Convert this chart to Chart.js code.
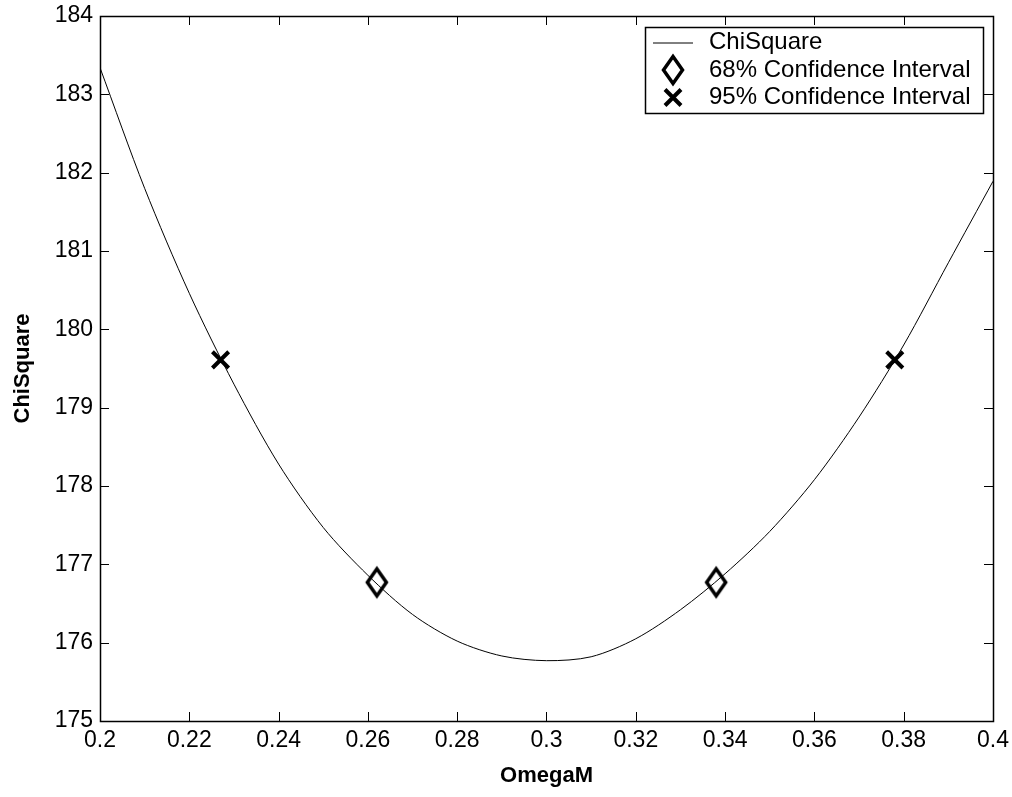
<!DOCTYPE html>
<html>
<head>
<meta charset="utf-8">
<script src="https://cdn.jsdelivr.net/npm/chart.js@4.4.1/dist/chart.umd.min.js"></script>
<style>
html, body { margin: 0; padding: 0; background: #fff; }
</style>
</head>
<body>
<canvas id="chiChart" width="1012" height="797"></canvas>
<script>
var omegaM = [0.20, 0.21, 0.22, 0.23, 0.24, 0.25, 0.26, 0.27, 0.28, 0.29, 0.30,
              0.31, 0.32, 0.33, 0.34, 0.35, 0.36, 0.37, 0.38, 0.39, 0.40];
var chiSquare = [183.34, 181.80, 180.46, 179.30, 178.28, 177.47, 176.86, 176.36, 176.02, 175.83, 175.77,
                 175.82, 176.05, 176.42, 176.88, 177.42, 178.08, 178.88, 179.80, 180.85, 181.89];
var ci68OmegaM = [0.262, 0.338];
var ci68Chi = [176.77, 176.77];
var ci95OmegaM = [0.227, 0.378];
var ci95Chi = [179.61, 179.61];
var xTicks = [0.2, 0.22, 0.24, 0.26, 0.28, 0.3, 0.32, 0.34, 0.36, 0.38, 0.4];
var yTicks = [175, 176, 177, 178, 179, 180, 181, 182, 183, 184];

var fontFamily = '"Liberation Sans", Arial, Helvetica, sans-serif';

function toPoints(xs, ys) {
	return xs.map(function (x, i) { return { x: x, y: ys[i] }; });
}

function makeDiamond() {
	var c = document.createElement('canvas');
	c.width = 30; c.height = 40;
	var g = c.getContext('2d');
	g.strokeStyle = '#000';
	g.lineWidth = 3.5;
	g.beginPath();
	g.moveTo(15, 6.5);
	g.lineTo(24.5, 20);
	g.lineTo(15, 33.5);
	g.lineTo(5.5, 20);
	g.closePath();
	g.stroke();
	return c;
}
var diamond = makeDiamond();

// drop the label padding so the plot box sits where layout.padding says
function noPad(s) {
	s.paddingTop = 0; s.paddingBottom = 0;
	s.paddingLeft = 0; s.paddingRight = 0;
}

// box round the plot with inward tick marks on all four sides
var axesBox = {
	id: 'axesBox',
	beforeDatasetsDraw: function (chart) {
		var ctx = chart.ctx, a = chart.chartArea;
		var xs = chart.scales.x, ys = chart.scales.y;
		var len = 9;
		ctx.save();
		ctx.strokeStyle = '#000';
		ctx.lineWidth = 1;
		ctx.beginPath();
		xTicks.forEach(function (v) {
			var px = Math.round(xs.getPixelForValue(v)) + 0.5;
			ctx.moveTo(px, a.bottom); ctx.lineTo(px, a.bottom - len);
			ctx.moveTo(px, a.top); ctx.lineTo(px, a.top + len);
		});
		yTicks.forEach(function (v) {
			var py = Math.round(ys.getPixelForValue(v)) + 0.5;
			ctx.moveTo(a.left, py); ctx.lineTo(a.left + len, py);
			ctx.moveTo(a.right, py); ctx.lineTo(a.right - len, py);
		});
		ctx.stroke();
		ctx.lineWidth = 1.5;
		ctx.strokeRect(Math.round(a.left) + 0.5, Math.round(a.top) + 0.5,
			Math.round(a.right - a.left), Math.round(a.bottom - a.top));
		ctx.restore();
	}
};

// boxed legend, top right inside the plot
var boxLegend = {
	id: 'boxLegend',
	afterDraw: function (chart) {
		var ctx = chart.ctx;
		var ds = chart.data.datasets;
		var left = 645, top = 27, right = 983, bottom = 113;
		var rows = [42.5, 70, 97.5];
		var symX = 673, textX = 709;
		ctx.save();
		ctx.fillStyle = '#fff';
		ctx.fillRect(left, top, right - left, bottom - top);
		ctx.strokeStyle = '#000';
		ctx.lineWidth = 1.5;
		ctx.strokeRect(left + 0.5, top + 0.5, right - left, bottom - top);

		// line sample
		ctx.lineWidth = 1;
		ctx.beginPath();
		ctx.moveTo(653, rows[0] + 0.5); ctx.lineTo(693, rows[0] + 0.5);
		ctx.stroke();
		// diamond sample
		ctx.drawImage(diamond, symX - diamond.width / 2, rows[1] - diamond.height / 2);
		// cross sample
		var r = 8;
		ctx.lineWidth = 4;
		ctx.beginPath();
		ctx.moveTo(symX - r, rows[2] - r); ctx.lineTo(symX + r, rows[2] + r);
		ctx.moveTo(symX - r, rows[2] + r); ctx.lineTo(symX + r, rows[2] - r);
		ctx.stroke();

		ctx.fillStyle = '#000';
		ctx.font = '24px ' + fontFamily;
		ctx.textBaseline = 'middle';
		ctx.textAlign = 'left';
		for (var i = 0; i < 3; i++) {
			ctx.fillText(ds[i].label, textX, rows[i]);
		}
		ctx.restore();
	}
};

function loadChiChart() {
	Chart.defaults.font.family = fontFamily;
	Chart.defaults.color = '#000';

	var ctx = document.getElementById('chiChart');
	new Chart(ctx, {
		type: 'scatter',
		data: {
			datasets: [{
				label: 'ChiSquare',
				data: toPoints(omegaM, chiSquare),
				showLine: true,
				borderColor: '#000',
				borderWidth: 1,
				tension: 0.3,
				pointRadius: 0,
				order: 3
			}, {
				label: '68% Confidence Interval',
				data: toPoints(ci68OmegaM, ci68Chi),
				pointStyle: diamond,
				pointRadius: 12,
				borderColor: '#000',
				backgroundColor: '#000',
				order: 1
			}, {
				label: '95% Confidence Interval',
				data: toPoints(ci95OmegaM, ci95Chi),
				pointStyle: 'crossRot',
				pointRadius: 11.5,
				borderWidth: 4,
				borderColor: '#000',
				backgroundColor: '#000',
				order: 2
			}]
		},
		options: {
			responsive: false,
			animation: false,
			layout: { padding: { top: 16, right: 19, bottom: 0, left: 0 } },
			plugins: {
				legend: { display: false },
				tooltip: { enabled: false }
			},
			scales: {
				x: {
					type: 'linear',
					min: 0.2,
					max: 0.4,
					grid: { display: false, drawTicks: false },
					border: { display: false },
					afterBuildTicks: function (s) {
						s.ticks = xTicks.map(function (v) { return { value: v }; });
					},
					afterFit: function (s) { s.height = 76; noPad(s); },
					ticks: {
						padding: 6,
						maxRotation: 0,
						autoSkip: false,
						font: { size: 23 },
						callback: function (v) { return String(Number(v.toFixed(2))); }
					},
					title: {
						display: true,
						text: 'OmegaM',
						font: { size: 22, weight: 'bold' },
						padding: { top: 0, bottom: 8 }
					}
				},
				y: {
					type: 'linear',
					min: 175,
					max: 184,
					grid: { display: false, drawTicks: false },
					border: { display: false },
					afterBuildTicks: function (s) {
						s.ticks = yTicks.map(function (v) { return { value: v }; });
					},
					afterFit: function (s) { s.width = 100; noPad(s); },
					ticks: {
						padding: 7,
						autoSkip: false,
						font: { size: 23 }
					},
					title: {
						display: true,
						text: 'ChiSquare',
						font: { size: 22, weight: 'bold' },
						padding: { top: 10, bottom: 0 }
					}
				}
			}
		},
		plugins: [axesBox, boxLegend]
	});
}
window.addEventListener('load', function () { loadChiChart(); });
</script>
</body>
</html>
